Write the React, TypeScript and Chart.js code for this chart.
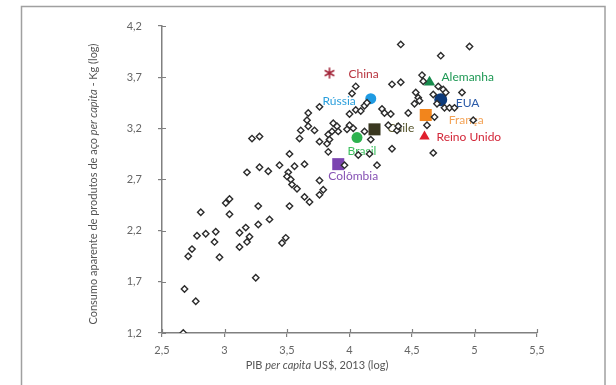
import React, { useEffect, useRef } from 'react';
import { Chart, registerables } from 'chart.js';

Chart.register(...registerables);

// Axis ranges / ticks (log values)
const X_MIN = 2.5;
const X_MAX = 5.5;
const Y_MIN = 1.2;
const Y_MAX = 4.2;
const TICK_STEP = 0.5;

// Other countries: [PIB per capita (log), consumo de aço per capita (log)]
const otherCountries: [number, number][] = [
  [3.18, 2.77], [3.35, 2.78], [3.51, 2.77], [3.50, 2.73], [3.53, 2.70], [3.54, 2.65], [3.58, 2.61],
  [3.76, 2.69], [3.79, 2.60], [3.76, 2.55], [3.64, 2.53], [3.68, 2.48], [2.81, 2.38], [3.01, 2.47],
  [3.04, 2.51], [3.04, 2.36], [3.27, 2.44], [3.52, 2.44], [3.27, 2.26], [3.36, 2.31], [2.71, 1.95],
  [2.74, 2.02], [2.78, 2.15], [2.85, 2.17], [2.93, 2.19], [2.92, 2.09], [2.96, 1.94], [3.12, 2.18],
  [3.17, 2.23], [3.12, 2.04], [3.18, 2.09], [3.20, 2.14], [3.46, 2.08], [3.49, 2.13], [3.25, 1.74],
  [2.68, 1.63], [2.77, 1.51], [2.67, 1.20],
  [3.28, 2.82], [3.44, 2.84], [3.56, 2.83], [3.64, 2.85], [3.52, 2.95], [3.22, 3.10], [3.28, 3.12],
  [3.60, 3.10], [3.76, 3.07], [3.83, 3.14], [3.84, 3.09], [3.82, 3.05], [3.83, 2.97], [3.67, 3.35],
  [3.66, 3.28], [3.67, 3.22], [3.61, 3.18], [3.72, 3.18], [3.76, 3.41],
  [3.87, 3.25], [3.90, 3.22], [4.00, 3.23], [3.86, 3.17], [3.91, 3.17], [3.98, 3.19], [4.03, 3.20],
  [4.00, 3.34], [4.05, 3.38], [4.09, 3.37], [4.12, 3.42], [4.14, 3.45], [4.12, 3.17], [4.17, 3.09],
  [4.26, 3.39], [4.28, 3.35], [4.33, 3.34], [4.47, 3.35], [4.31, 3.23], [4.38, 3.18], [4.39, 3.22],
  [4.34, 3.00], [4.07, 2.94], [4.16, 2.95], [4.22, 2.84], [3.96, 2.84], [4.05, 3.61], [4.02, 3.54],
  [4.34, 3.63], [4.41, 3.65],
  [4.41, 4.02], [4.96, 4.00], [4.73, 3.91], [4.58, 3.72], [4.59, 3.66], [4.53, 3.55], [4.55, 3.50],
  [4.56, 3.47], [4.52, 3.44], [4.67, 3.53], [4.71, 3.61], [4.75, 3.58], [4.77, 3.55], [4.90, 3.55],
  [4.70, 3.44], [4.76, 3.40], [4.80, 3.40], [4.84, 3.40], [4.68, 3.31], [4.62, 3.23], [4.99, 3.28],
  [4.67, 2.96],
];

// Highlighted countries
const countries = ['China', 'Rússia', 'Alemanha', 'EUA', 'França', 'Reino Unido', 'Chile', 'Brasil', 'Colômbia'];
const countryGdp = [3.84, 4.17, 4.64, 4.73, 4.61, 4.60, 4.20, 4.06, 3.91];
const countrySteel = [3.74, 3.49, 3.65, 3.48, 3.33, 3.12, 3.19, 3.11, 2.85];

// Styles (not data)
const markerStyle = ['asterisk', 'circle', 'triangle', 'circle', 'rect', 'triangle', 'rect', 'circle', 'rect'];
const markerRadius = [6, 5.5, 6.5, 6.5, 8.5, 6, 8.5, 5.5, 8.5];
const markerColor = ['#a3263a', '#1f9be3', '#178a4c', '#0c3a7a', '#f2851c', '#e01f2d', '#3a3820', '#2db24f', '#7b44b0'];
const labelColor = ['#b8343f', '#2a9fdc', '#1f9955', '#2a5aa8', '#f4a458', '#d3283a', '#56552c', '#3cbf5e', '#8652b4'];
// label placement: [dx, dy, align]
const labelPlace: [number, number, CanvasTextAlign][] = [
  [19, 1, 'left'], [-15, 2, 'right'], [12, -5, 'left'], [15, 3, 'left'], [23, 5, 'left'],
  [12, 1, 'left'], [13, -1, 'left'], [5, 14, 'center'], [15, 12, 'center'],
];

const FONT = 'Lato, "Noto Sans", sans-serif';

const fmt = (v: number) => (Math.round(v * 10) / 10).toString().replace('.', ',');

function makeAsterisk(color: string): HTMLCanvasElement {
  const c = document.createElement('canvas');
  c.width = 12;
  c.height = 12;
  const g = c.getContext('2d')!;
  g.strokeStyle = color;
  g.lineWidth = 1.6;
  g.lineCap = 'butt';
  g.beginPath();
  for (let k = 0; k < 3; k++) {
    const a = (k * Math.PI) / 3;
    g.moveTo(6 + Math.sin(a) * 5.5, 6 - Math.cos(a) * 5.5);
    g.lineTo(6 - Math.sin(a) * 5.5, 6 + Math.cos(a) * 5.5);
  }
  g.stroke();
  return c;
}

function drawSegments(ctx: CanvasRenderingContext2D, segs: [string, boolean][], cx: number, cy: number, size: number) {
  const fonts = segs.map(([, it]) => `${it ? 'italic ' : ''}${size}px ${FONT}`);
  let total = 0;
  const widths = segs.map(([t], i) => {
    ctx.font = fonts[i];
    const w = ctx.measureText(t).width;
    total += w;
    return w;
  });
  let x = cx - total / 2;
  ctx.textAlign = 'left';
  ctx.textBaseline = 'middle';
  segs.forEach(([t], i) => {
    ctx.font = fonts[i];
    ctx.fillText(t, x, cy);
    x += widths[i];
  });
}

export default function App() {
  const ref = useRef<HTMLCanvasElement>(null);

  useEffect(() => {
    document.body.style.margin = '0';
    const canvas = ref.current!;

    const styles = markerStyle.map((s, i) => (s === 'asterisk' ? makeAsterisk(markerColor[i]) : s));

    const decor = {
      id: 'decor',
      beforeDraw(chart: any) {
        const ctx = chart.ctx;
        ctx.save();
        ctx.fillStyle = '#ffffff';
        ctx.fillRect(0, 0, chart.width, chart.height);
        ctx.strokeStyle = '#a0a0a0';
        ctx.lineWidth = 1.5;
        ctx.strokeRect(21.5, 6.5, 583.5, 420);
        ctx.restore();
      },
      beforeDatasetsDraw(chart: any) {
        const ctx = chart.ctx;
        const xs = chart.scales.x;
        const ys = chart.scales.y;
        ctx.save();
        ctx.font = `12px ${FONT}`;
        ctx.textBaseline = 'middle';
        countries.forEach((name, i) => {
          const px = xs.getPixelForValue(countryGdp[i]);
          const py = ys.getPixelForValue(countrySteel[i]);
          const [dx, dy, al] = labelPlace[i];
          ctx.fillStyle = labelColor[i];
          ctx.textAlign = al;
          ctx.fillText(name, px + dx, py + dy);
        });
        ctx.restore();
      },
      afterDraw(chart: any) {
        const ctx = chart.ctx;
        const xs = chart.scales.x;
        const ys = chart.scales.y;
        const area = chart.chartArea;
        ctx.save();
        // inner halves of crossing tick marks
        ctx.strokeStyle = '#808080';
        ctx.lineWidth = 1.2;
        ctx.beginPath();
        xs.ticks.forEach((t: any) => {
          const px = Math.round(xs.getPixelForValue(t.value)) + 0.5;
          ctx.moveTo(px, area.bottom);
          ctx.lineTo(px, area.bottom - 4);
        });
        ys.ticks.forEach((t: any) => {
          const py = Math.round(ys.getPixelForValue(t.value)) + 0.5;
          ctx.moveTo(area.left, py);
          ctx.lineTo(area.left + 4, py);
        });
        ctx.stroke();
        // axis titles
        ctx.fillStyle = '#555555';
        drawSegments(ctx, [['PIB ', false], ['per capita', true], [' US$, 2013 (log)', false]], 317, 365, 11);
        ctx.translate(93, 184);
        ctx.rotate(-Math.PI / 2);
        drawSegments(ctx, [['Consumo aparente de produtos de aço ', false], ['per capita', true], [' - Kg (log)', false]], 0, 0, 11);
        ctx.restore();
      },
    };

    const chart = new Chart(canvas, {
      type: 'scatter',
      data: {
        datasets: [
          {
            label: 'Outros',
            data: otherCountries.map(([x, y]) => ({ x, y })),
            pointStyle: 'rectRot',
            pointRadius: 3.2,
            pointBorderWidth: 1.4,
            borderColor: '#2b2b2b',
            backgroundColor: '#ffffff',
          } as any,
          {
            label: 'Destaques',
            data: countries.map((_, i) => ({ x: countryGdp[i], y: countrySteel[i] })),
            pointStyle: styles as any,
            pointRadius: markerRadius,
            pointBorderWidth: 0,
            borderColor: markerColor,
            backgroundColor: markerColor,
          } as any,
        ],
      },
      options: {
        responsive: false,
        animation: false,
        events: [],
        layout: { padding: { left: 122, right: 79, top: 26, bottom: 0 } },
        plugins: { legend: { display: false }, tooltip: { enabled: false } },
        scales: {
          x: {
            type: 'linear',
            min: X_MIN,
            max: X_MAX,
            afterFit: (s: any) => { s.height = 52; },
            afterBuildTicks: (s: any) => {
              const t = [];
              for (let v = X_MIN; v <= X_MAX + 1e-9; v += TICK_STEP) t.push({ value: Math.round(v * 10) / 10 });
              s.ticks = t;
            },
            ticks: {
              callback: (v: any) => fmt(Number(v)),
              color: '#666666',
              font: { family: FONT, size: 11 },
              padding: 7,
              maxRotation: 0,
              autoSkip: false,
            },
            grid: { display: true, drawOnChartArea: false, drawTicks: true, tickLength: 4, color: '#808080', lineWidth: 1.2 },
            border: { display: true, color: '#808080', width: 1.5 },
          },
          y: {
            type: 'linear',
            min: Y_MIN,
            max: Y_MAX,
            afterFit: (s: any) => { s.width = 40; },
            afterBuildTicks: (s: any) => {
              const t = [];
              for (let v = Y_MIN; v <= Y_MAX + 1e-9; v += TICK_STEP) t.push({ value: Math.round(v * 10) / 10 });
              s.ticks = t;
            },
            ticks: {
              callback: (v: any) => fmt(Number(v)),
              color: '#666666',
              font: { family: FONT, size: 11 },
              padding: 16,
              autoSkip: false,
            },
            grid: { display: true, drawOnChartArea: false, drawTicks: true, tickLength: 4, color: '#808080', lineWidth: 1.2 },
            border: { display: true, color: '#808080', width: 1.5 },
          },
        },
      },
      plugins: [decor],
    });

    return () => chart.destroy();
  }, []);

  return (
    <div style={{ width: 616, height: 385 }}>
      <canvas ref={ref} width={616} height={385} style={{ display: 'block' }} />
    </div>
  );
}
